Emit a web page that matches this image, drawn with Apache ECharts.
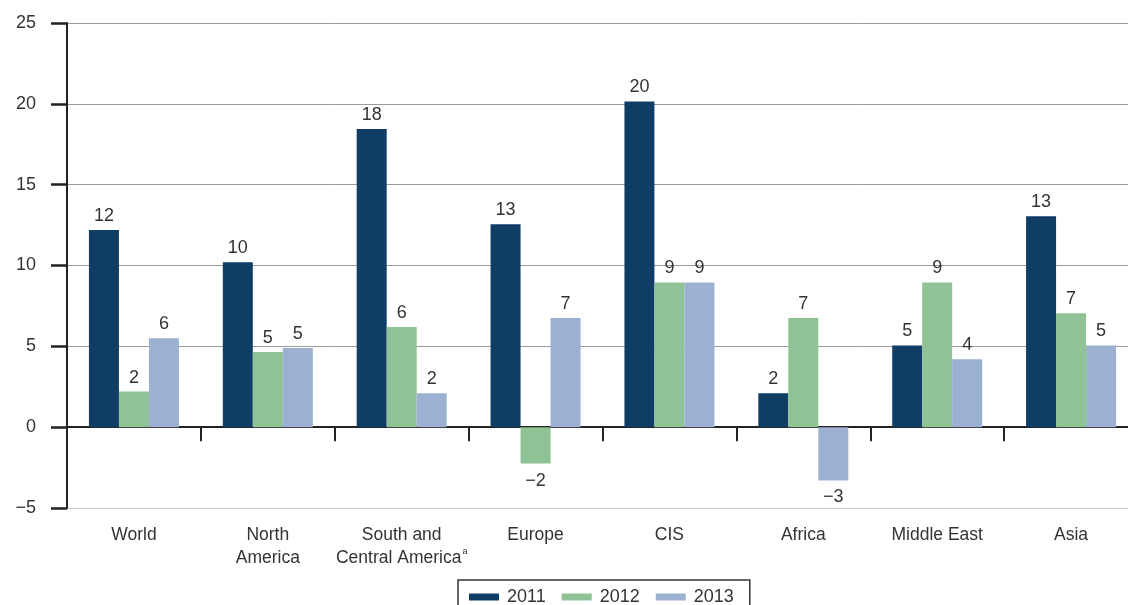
<!DOCTYPE html>
<html>
<head>
<meta charset="utf-8">
<script src="https://cdn.jsdelivr.net/npm/echarts@6/dist/echarts.min.js"></script>
<style>
  html, body { margin: 0; padding: 0; background: #fff; }
  #chart { width: 1128px; height: 605px; }
</style>
</head>
<body>
<div id="chart"></div>
<script>
// Annual change by region, per cent
const categories = [
  'World',
  'North\nAmerica',
  'South and\nCentral America{sup|a}',
  'Europe',
  'CIS',
  'Africa',
  'Middle East',
  'Asia'
];
const years = ['2011', '2012', '2013'];
const values2011 = [12.2, 10.2, 18.45, 12.55, 20.15, 2.1, 5.05, 13.05];
const values2012 = [2.2, 4.65, 6.2, -2.25, 8.95, 6.75, 8.95, 7.05];
const values2013 = [5.5, 4.9, 2.1, 6.75, 8.95, -3.3, 4.2, 5.05];
const yTicks = { min: -5, max: 25, interval: 5 };

const colors = ['#0f3d64', '#8fc295', '#9cb1d1'];
const textColor = '#333333';
const fontFamily = '"Liberation Sans", Arial, sans-serif';

const minus = '\u2212';
const fmt = v => (v < 0 ? minus + Math.round(-v) : String(Math.round(v)));

function barSeries(name, values, color) {
  return {
    name: name,
    type: 'bar',
    xAxisIndex: 0,
    barWidth: 30,
    barGap: '0%',
    itemStyle: { color: color },
    label: {
      show: true,
      position: 'top',
      distance: 5,
      color: textColor,
      fontSize: 18,
      fontFamily: fontFamily,
      formatter: p => fmt(p.value)
    },
    data: values.map(v => v < 0 ? { value: v, label: { position: 'bottom', distance: 8 } } : v)
  };
}

const chart = echarts.init(document.getElementById('chart'), null, { renderer: 'canvas' });
chart.setOption({
  animation: false,
  backgroundColor: '#ffffff',
  textStyle: { fontFamily: fontFamily },
  grid: { left: 67, width: 1071, top: 23, bottom: 97, containLabel: false, outerBoundsMode: 'none' },
  legend: {
    data: years,
    left: 458,
    top: 580,
    orient: 'horizontal',
    icon: 'rect',
    itemWidth: 30,
    itemHeight: 7,
    itemGap: 16,
    padding: [8, 16, 12, 11],
    borderColor: '#333333',
    borderWidth: 1.5,
    textStyle: { color: textColor, fontSize: 18, fontFamily: fontFamily, padding: [0, 0, 0, 3] }
  },
  xAxis: [
    {
      type: 'category',
      data: categories,
      axisLine: { onZero: true, lineStyle: { color: '#222222', width: 2 } },
      axisTick: { show: true, interval: 0, length: 14, lineStyle: { color: '#222222', width: 2 } },
      axisLabel: { show: false },
      splitLine: { show: false }
    },
    {
      type: 'category',
      data: categories,
      position: 'bottom',
      gridIndex: 0,
      axisLine: { show: false, onZero: false },
      axisTick: { show: false },
      splitLine: { show: false },
      axisLabel: {
        show: true,
        interval: 0,
        margin: 16,
        color: textColor,
        fontSize: 17.5,
        lineHeight: 23,
        fontFamily: fontFamily,
        rich: {
          sup: { fontSize: 9, verticalAlign: 'top', lineHeight: 14, color: textColor, padding: [0, 0, 0, 1] }
        }
      }
    }
  ],
  yAxis: {
    type: 'value',
    min: yTicks.min,
    max: yTicks.max,
    interval: yTicks.interval,
    axisLine: { show: true, lineStyle: { color: '#222222', width: 2 } },
    axisTick: { show: true, length: 16, lineStyle: { color: '#222222', width: 2.5 } },
    axisLabel: {
      margin: 31,
      color: textColor,
      fontSize: 18,
      fontFamily: fontFamily,
      formatter: v => (v < 0 ? minus + (-v) : String(v))
    },
    splitLine: {
      show: true,
      lineStyle: { color: ['#c8c8c8', '#9a9a9a', '#9a9a9a', '#9a9a9a', '#9a9a9a', '#9a9a9a', '#9a9a9a'], width: 1 }
    }
  },
  series: [
    barSeries(years[0], values2011, colors[0]),
    barSeries(years[1], values2012, colors[1]),
    barSeries(years[2], values2013, colors[2])
  ]
});
</script>
</body>
</html>
